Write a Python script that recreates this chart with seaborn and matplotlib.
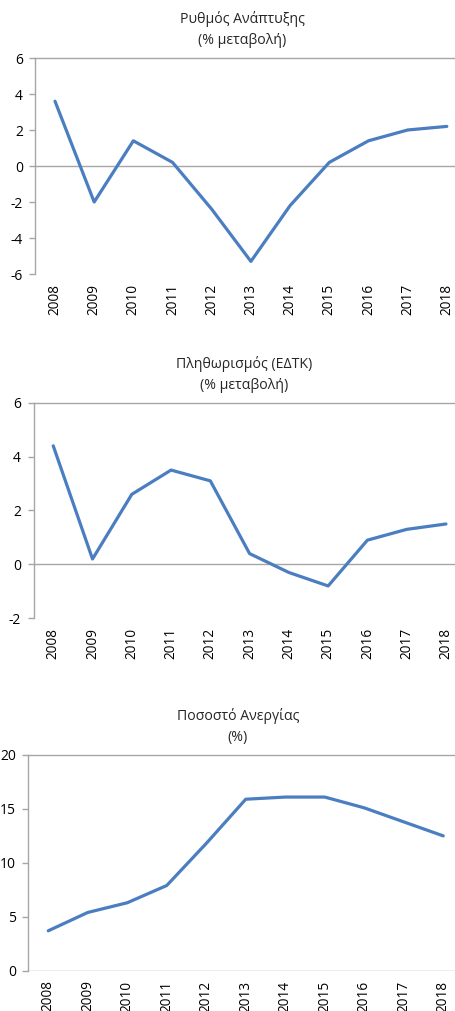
import numpy as np
import pandas as pd
import seaborn as sns
import matplotlib.pyplot as plt

years = [str(y) for y in range(2008, 2019)]
growth = [3.6, -2.0, 1.4, 0.2, -2.4, -5.3, -2.2, 0.2, 1.4, 2.0, 2.2]
inflation = [4.4, 0.2, 2.6, 3.5, 3.1, 0.4, -0.3, -0.8, 0.9, 1.3, 1.5]
unemployment = [3.7, 5.4, 6.3, 7.9, 11.8, 15.9, 16.1, 16.1, 15.1, 13.8, 12.5]

titles = [
    "Ρυθμός Ανάπτυξης\n(% μεταβολή)",
    "Πληθωρισμός (ΕΔΤΚ)\n(% μεταβολή)",
    "Ποσοστό Ανεργίας\n(%)",
]
series = [growth, inflation, unemployment]
ylims = [(-6, 6), (-2, 6), (0, 20)]
yticks = [[-6, -4, -2, 0, 2, 4, 6], [-2, 0, 2, 4, 6], [0, 5, 10, 15, 20]]

sns.set_theme(style="white")
plt.rcParams["font.family"] = ["Open Sans", "DejaVu Sans"]
plt.rcParams["axes.unicode_minus"] = False

W, H = 456, 1011
fig = plt.figure(figsize=(W / 100, H / 100), dpi=100)

# axes boxes in pixels: left, top, width, height
boxes = [(35.4, 58, 431, 216), (33.6, 402.7, 432, 215.6), (28.5, 755, 434.5, 215.7)]
title_pos = [(242, 29.5), (244, 374.5), (238, 726.5)]

line_color = "#4A7EC0"
axis_color = "#A6A6A6"

for i in range(3):
    l, t, w, h = boxes[i]
    ax = fig.add_axes([l / W, 1 - (t + h) / H, w / W, h / H])
    df = pd.DataFrame({"year": years, "value": series[i]})
    sns.lineplot(data=df, x="year", y="value", ax=ax, color=line_color,
                 linewidth=2.3, sort=False)
    ax.set_xlim(-0.5, 10.5)
    ax.set_ylim(*ylims[i])
    ax.set_yticks(yticks[i])
    ax.set_xlabel("")
    ax.set_ylabel("")
    for s in ["right", "bottom"]:
        ax.spines[s].set_visible(False)
    for s in ["left", "top"]:
        ax.spines[s].set_color(axis_color)
        ax.spines[s].set_linewidth(1.0)
    ax.axhline(0, color=axis_color, lw=1.0, zorder=1)
    ax.tick_params(axis="y", direction="out", length=4, width=1.0,
                   color=axis_color, labelsize=10, pad=5, left=True)
    ax.tick_params(axis="x", length=0, labelsize=9.8, pad=7, rotation=90)
    for lab in ax.get_xticklabels() + ax.get_yticklabels():
        lab.set_color("#000000")
    tx, ty = title_pos[i]
    fig.text(tx / W, 1 - ty / H, titles[i], ha="center", va="center",
             fontsize=10.2, linespacing=1.6)

fig.savefig("out.png", dpi=100)
